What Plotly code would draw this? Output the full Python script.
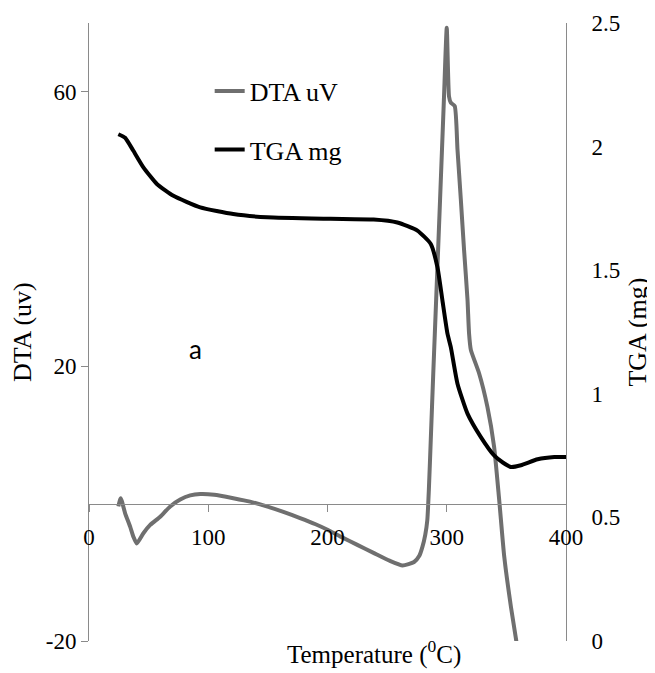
import plotly.graph_objects as go

# DTA curve (temperature in °C, signal in uV)
dta_temp = [24.6, 26.6, 30.3, 34.5, 37.2, 40, 45.6, 51.3, 59.7, 68.1, 76.5, 84.9, 93.3, 105, 121,
            135, 149, 163, 177, 190, 200, 211, 225, 239, 252, 263, 272.6, 277, 279.6, 282, 283.7,
            285, 286.6, 288.7, 290, 294.4, 297.6, 300, 301.9, 303.4, 306.7, 309, 311.8, 314.5,
            317.4, 318.7, 320.2, 327.1, 334.1, 339.7, 344, 348.2, 353.8, 358.6]
dta_uv = [-0.4, 0.8, -1.4, -3.35, -4.8, -5.8, -4.3, -3.1, -1.9, -0.4, 0.6, 1.2, 1.4, 1.3, 0.8, 0.3,
          -0.4, -1.2, -2.1, -3.0, -3.8, -4.8, -6.0, -7.2, -8.3, -9.0, -8.5, -7.6, -6.3, -4.5, -2.4,
          2.0, 9.3, 19.0, 24.8, 44.3, 58.8, 69.3, 59.3, 58.4, 57.9, 51.6, 44.3, 37.0, 29.7, 24.8,
          22.4, 19.0, 14.1, 8.3, 0.5, -7.7, -15.0, -20.3]

# TGA curve (temperature in °C, mass in mg)
tga_temp = [24.6, 30.3, 37.2, 45.6, 56.9, 70.8, 93.3, 121, 149.3, 202.5, 238.7, 258.6, 275.4,
            286.6, 292.2, 296.4, 300.6, 303.4, 309, 317.4, 328.6, 339.7, 347, 353.8, 362.2,
            376.2, 390.2, 400]
tga_mg = [2.05, 2.036, 1.983, 1.916, 1.849, 1.801, 1.754, 1.727, 1.714, 1.708, 1.705, 1.693, 1.66,
          1.606, 1.512, 1.377, 1.243, 1.189, 1.041, 0.92, 0.825, 0.751, 0.722, 0.704, 0.711,
          0.735, 0.744, 0.744]

x_ticks = [0, 100, 200, 300, 400]
dta_ticks = [-20, 20, 60]
dta_ticktext = ["-20", "20", "60"]
tga_ticks = [0, 0.5, 1, 1.5, 2, 2.5]
tga_ticktext = ["0", "0.5", "1", "1.5", "2", "2.5"]

SERIF = "Liberation Serif"
AXIS_COL = "#8a8a8a"

fig = go.Figure()
fig.add_trace(go.Scatter(x=dta_temp, y=dta_uv, mode="lines", name="DTA uV",
                         line=dict(color="#6f6f6f", width=4, shape="spline", smoothing=0.5),
                         legend="legend", yaxis="y"))
fig.add_trace(go.Scatter(x=tga_temp, y=tga_mg, mode="lines", name="TGA mg",
                         line=dict(color="#000000", width=4, shape="spline", smoothing=0.5),
                         legend="legend2", yaxis="y2"))

tickfont = dict(family=SERIF, size=23, color="black")
titlefont = dict(family=SERIF, size=26, color="black")

# The page body has an 8px margin, so the figure is sized/offset to compensate.
fig.update_layout(
    width=647, height=665,
    margin=dict(l=81, r=89, t=15, b=32, autoexpand=False),
    paper_bgcolor="white", plot_bgcolor="white",
    showlegend=True,
    xaxis=dict(range=[0, 400], tickvals=x_ticks, showgrid=False, zeroline=False,
               showline=True, linecolor=AXIS_COL, linewidth=1,
               ticks="outside", ticklen=7, tickcolor=AXIS_COL, tickwidth=1,
               tickfont=tickfont, anchor="free", position=20/90,
               ticklabelstandoff=6, automargin=False),
    yaxis=dict(range=[-20, 70], tickvals=dta_ticks, ticktext=dta_ticktext,
               showgrid=False, zeroline=False,
               showline=True, linecolor=AXIS_COL, linewidth=1,
               ticks="outside", ticklen=7, tickcolor=AXIS_COL, tickwidth=1,
               tickfont=tickfont, automargin=False),
    # right axis: labels pushed out by an invisible long tick
    yaxis2=dict(range=[0, 2.5], tickvals=tga_ticks, ticktext=tga_ticktext,
                overlaying="y", side="right", showgrid=False, zeroline=False,
                showline=True, linecolor=AXIS_COL, linewidth=1,
                ticks="outside", ticklen=20, tickcolor="rgba(0,0,0,0)", tickwidth=1,
                tickfont=tickfont, automargin=False),
    # right axis: the short visible ticks
    yaxis3=dict(range=[0, 2.5], tickvals=tga_ticks, showticklabels=False,
                overlaying="y", side="right", showgrid=False, zeroline=False,
                showline=False, ticks="outside", ticklen=7, tickcolor=AXIS_COL, tickwidth=1,
                automargin=False),
    legend=dict(x=0.253, y=0.89, xanchor="left", yanchor="middle",
                bgcolor="rgba(0,0,0,0)", borderwidth=0,
                font=dict(family=SERIF, size=26, color="black")),
    legend2=dict(x=0.253, y=0.795, xanchor="left", yanchor="middle",
                 bgcolor="rgba(0,0,0,0)", borderwidth=0,
                 font=dict(family=SERIF, size=26, color="black")),
    annotations=[
        dict(text="Temperature (<sup>0</sup>C)", xref="paper", yref="paper",
             x=0.5975, y=-0.018, xanchor="center", yanchor="middle", showarrow=False,
             font=dict(family=SERIF, size=25, color="black")),
        dict(text="DTA (uv)", xref="paper", yref="paper", x=-0.1405, y=0.5,
             xanchor="center", yanchor="middle", textangle=-90, showarrow=False,
             font=titlefont),
        dict(text="TGA (mg)", xref="paper", yref="paper", x=1.148, y=0.5,
             xanchor="center", yanchor="middle", textangle=-90, showarrow=False,
             font=titlefont),
        dict(text="a", xref="x", yref="y", x=89, y=22.5, xanchor="center", yanchor="middle",
             showarrow=False, font=dict(family="Lato", size=26, color="black")),
    ],
)

fig.write_html("out.html")
